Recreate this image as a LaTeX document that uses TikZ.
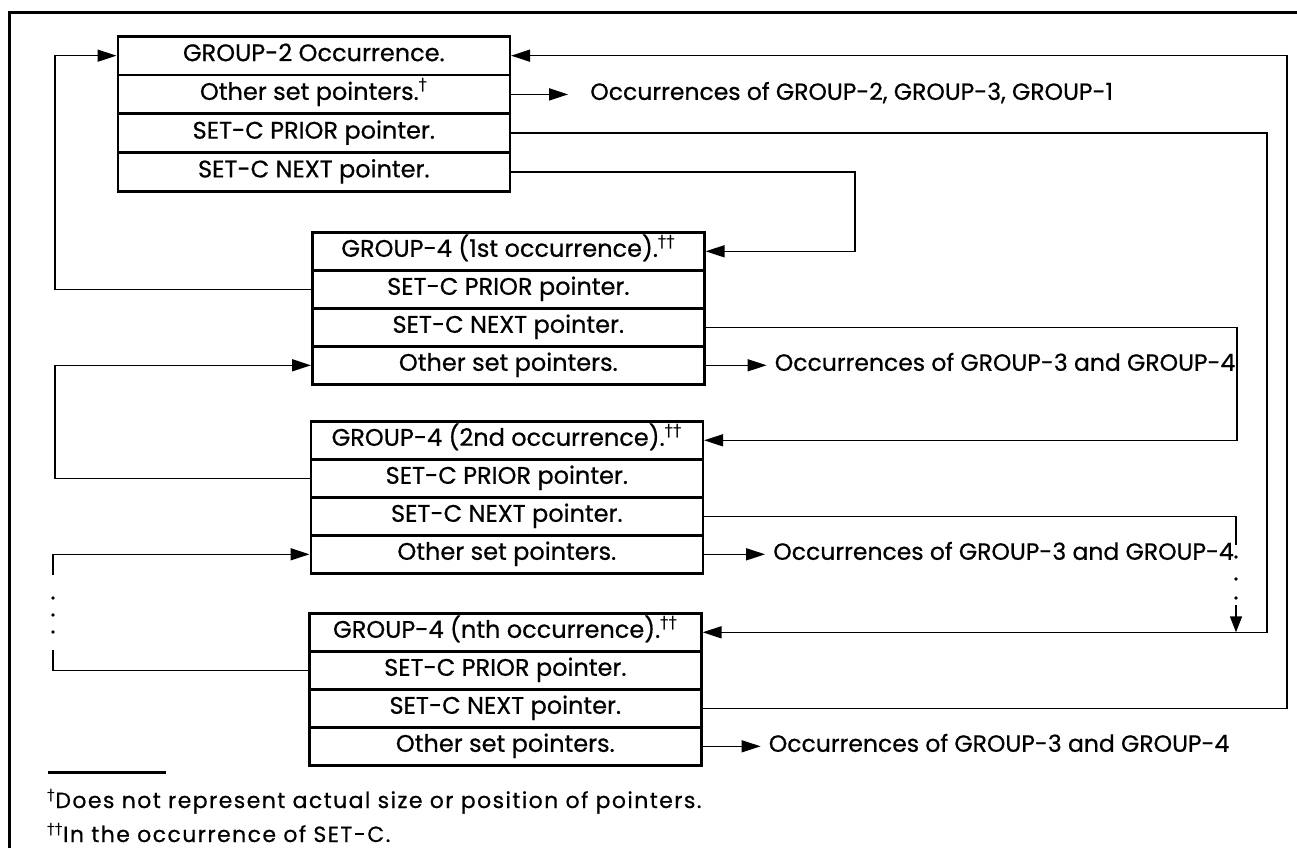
\documentclass[tikz,border=0pt]{standalone}
\usepackage{fontspec}
\setmainfont{Poppins}[FakeBold=0.6]
\newfontfamily\symf{DejaVu Sans}
\usetikzlibrary{arrows.meta}
\newcommand{\dg}{\textsuperscript{\symf †}}
\newcommand{\ddg}{\textsuperscript{\symf ††}}
\begin{document}
\begin{tikzpicture}[x=1pt,y=-1pt,
  frameline/.style={line width=3pt},
  rowbox/.style={draw, line width=2.6pt, minimum width=392pt, minimum height=38pt,
    inner sep=0pt, text height=16pt, text depth=5pt, anchor=north west,
    font=\fontsize{24}{27}\selectfont},
  rowboxA/.style={rowbox, minimum height=38.75pt},
  conn/.style={line width=1.6pt},
  arr/.style={conn, -{Triangle[length=19pt,width=12pt]}},
  arrD/.style={conn, -{Triangle[length=16pt,width=12pt]}},
  txt/.style={anchor=west, inner sep=0pt, text height=16pt, text depth=5pt,
    font=\fontsize{23.5}{26}\selectfont},
  fnote/.style={anchor=base west, inner sep=0pt,
    font=\fontsize{22}{25}\selectfont\addfontfeatures{LetterSpace=6.5}},
  dotm/.style={fill, circle, inner sep=0pt, minimum size=3.8pt}
]
\useasboundingbox (0,0) rectangle (1297,848);

% page frame
\draw[frameline] (9,848) -- (9,13) -- (1297,13);

% GROUP-2 box
\node[rowboxA] (b1r1) at (116.5,35)    {GROUP-2 Occurrence.};
\node[rowboxA] (b1r2) at (116.5,73.75) {Other set pointers.\dg};
\node[rowboxA] (b1r3) at (116.5,112.5) {SET-C PRIOR pointer.};
\node[rowboxA] (b1r4) at (116.5,151.25){SET-C NEXT pointer.};

% GROUP-4 1st
\node[rowbox] (b2r1) at (311,231) {GROUP-4 (1st occurrence).\ddg};
\node[rowbox] (b2r2) at (311,269) {SET-C PRIOR pointer.};
\node[rowbox] (b2r3) at (311,307) {SET-C NEXT pointer.};
\node[rowbox] (b2r4) at (311,345) {Other set pointers.};

% GROUP-4 2nd
\node[rowbox] (b3r1) at (309.5,420) {GROUP-4 (2nd occurrence).\ddg};
\node[rowbox] (b3r2) at (309.5,458) {SET-C PRIOR pointer.};
\node[rowbox] (b3r3) at (309.5,496) {SET-C NEXT pointer.};
\node[rowbox] (b3r4) at (309.5,534) {Other set pointers.};

% GROUP-4 nth
\node[rowbox] (b4r1) at (308,612) {GROUP-4 (nth occurrence).\ddg};
\node[rowbox] (b4r2) at (308,650) {SET-C PRIOR pointer.};
\node[rowbox] (b4r3) at (308,688) {SET-C NEXT pointer.};
\node[rowbox] (b4r4) at (308,726) {Other set pointers.};

% targets of other set pointers
\node[txt] (t1) at ([xshift=79pt]b1r2.east) {Occurrences of GROUP-2, GROUP-3, GROUP-1};
\node[txt] (t2) at ([xshift=69pt]b2r4.east) {Occurrences of GROUP-3 and GROUP-4};
\node[txt] (t3) at ([xshift=69pt]b3r4.east) {Occurrences of GROUP-3 and GROUP-4};
\node[txt] (t4) at ([xshift=66pt]b4r4.east) {Occurrences of GROUP-3 and GROUP-4};
\draw[arr, shorten >=22pt] (b1r2.east) -- (t1.west);
\draw[arr, shorten >=8pt]  (b2r4.east) -- (t2.west);
\draw[arr, shorten >=8pt]  (b3r4.east) -- (t3.west);
\draw[arr, shorten >=8pt]  (b4r4.east) -- (t4.west);

% left channels
\coordinate (L1) at (55,0);
\coordinate (LA) at (53,575);
\coordinate (LB) at (53,650);
\draw[arr] (b2r2.west) -- (b2r2.west -| L1) |- (b1r1.west);
\draw[arr] (b3r2.west) -- (b3r2.west -| L1) |- (b2r4.west);
\draw[conn] (b4r2.west) -| (LB);
\draw[arr] (LA) |- (b3r4.west);
\node[dotm] (ld1) at (53,598) {};
\node[dotm] (ld2) at (53,615) {};
\node[dotm] (ld3) at (53,632) {};

% right channels
\coordinate (R1) at (1267,0);
\coordinate (R2) at (1287,0);
\coordinate (R3) at (855,0);
\coordinate (R4) at (1237,0);
\coordinate (RB) at (1236,545);
\coordinate (RC) at (1236,605);
\draw[arr] (b1r3.east) -- (b1r3.east -| R1) |- (b4r1.east);
\draw[arr] (b1r4.east) -- (b1r4.east -| R3) |- (b2r1.east);
\draw[arr] (b2r3.east) -- (b2r3.east -| R4) |- (b3r1.east);
\draw[arr] (b4r3.east) -- (b4r3.east -| R2) |- (b1r1.east);
\draw[conn] (b3r3.east) -| (RB);
\node[dotm] (rd1) at (1236,557) {};
\node[dotm] (rd2) at (1236,579) {};
\node[dotm] (rd3) at (1236,598) {};
\draw[arrD] (RC) -- (RC |- b4r1.east);

% footnotes
\draw[line width=3pt] (48,772) -- (166,772);
\node[fnote] (f1) at (47,808) {\textsuperscript{\symf †}Does not represent actual size or position of pointers.};
\node[fnote] (f2) at (47,842) {\textsuperscript{\symf ††}In the occurrence of SET-C.};
\end{tikzpicture}
\end{document}
